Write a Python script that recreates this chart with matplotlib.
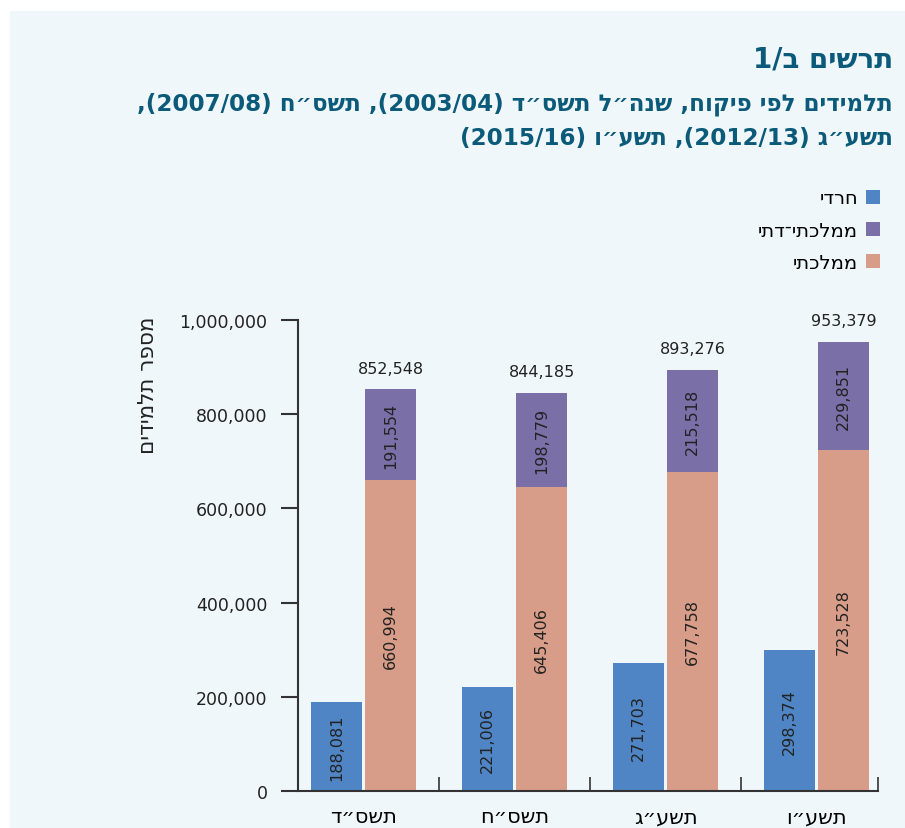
import re
import matplotlib
matplotlib.use("Agg")
import matplotlib.pyplot as plt
from matplotlib.patches import Rectangle
import numpy as np

plt.rcParams['font.family'] = ['DejaVu Sans', 'Liberation Sans']

# data
years = ['תשס״ד', 'תשס״ח', 'תשע״ג', 'תשע״ו']
haredi = [188081, 221006, 271703, 298374]
mamlachti = [660994, 645406, 677758, 723528]
mamlachti_dati = [191554, 198779, 215518, 229851]
totals = [852548, 844185, 893276, 953379]
series_names = ['חרדי', 'ממלכתי־דתי', 'ממלכתי']

c_blue = '#4f85c5'
c_purple = '#7a6fa7'
c_orange = '#d89d88'
c_title = '#0b5a7a'
bg = '#f0f7fa'


def rtl(s):
    # crude visual reordering for right-to-left text (numbers kept as is)
    toks = re.findall(r'\d[\d,/.]*\d|\d|[^\d]+', s)
    out = []
    for t in reversed(toks):
        if t[0].isdigit():
            out.append(t)
        else:
            t = t[::-1].translate(str.maketrans('()', ')('))
            out.append(t)
    return ''.join(out)


W, H = 905, 829
fig = plt.figure(figsize=(W / 100, H / 100), dpi=100)
fig.patch.set_facecolor('white')
fig.patches.append(Rectangle((10 / W, 0), 1, 1 - 12 / H, transform=fig.transFigure,
                             facecolor=bg, edgecolor='none', zorder=-10))

ax = fig.add_axes([298 / W, 1 - 792 / H, 580 / W, 471 / H])
ax.set_facecolor('none')

x = np.arange(len(years))
off = 0.179
bw = 0.338
ax.bar(x - off, haredi, bw, color=c_blue, label=rtl(series_names[0]))
ax.bar(x + off, mamlachti, bw, color=c_orange, label=rtl(series_names[2]))
ax.bar(x + off, mamlachti_dati, bw, bottom=mamlachti, color=c_purple,
       label=rtl(series_names[1]))

lab_kw = dict(rotation=90, ha='center', va='center', fontsize=11.5, color='#222222')
for i in range(len(years)):
    ax.text(x[i] - off, haredi[i] / 2, f'{haredi[i]:,}', **lab_kw)
    ax.text(x[i] + off, mamlachti[i] / 2, f'{mamlachti[i]:,}', **lab_kw)
    ax.text(x[i] + off, mamlachti[i] + mamlachti_dati[i] / 2, f'{mamlachti_dati[i]:,}', **lab_kw)
    ax.annotate(f'{totals[i]:,}', (x[i] + off, totals[i]), xytext=(0, 10),
                textcoords='offset points', ha='center', va='bottom',
                fontsize=11.5, color='#222222', annotation_clip=False)

ax.set_xlim(-0.434, 3.407)
ax.set_ylim(0, 1000000)
ax.set_yticks(np.arange(0, 1000001, 200000))
ax.set_yticklabels([f'{v:,}' for v in range(0, 1000001, 200000)])
ax.set_xticks(x)
ax.set_xticklabels([rtl(y) for y in years], fontsize=15)
ax.set_xticks([0.5, 1.5, 2.5, 3.407], minor=True)
ax.tick_params(axis='x', which='major', length=0, pad=11)
ax.tick_params(axis='x', which='minor', direction='in', length=10, width=1.2, color='#333333')
ax.tick_params(axis='y', direction='out', length=12, width=1.5, pad=10,
               labelsize=12.5, color='#333333', labelcolor='#222222')
for s in ['top', 'right']:
    ax.spines[s].set_visible(False)
for s in ['left', 'bottom']:
    ax.spines[s].set_linewidth(1.5)
    ax.spines[s].set_color('#333333')

fig.text(148 / W, 1 - 385 / H, rtl('מספר תלמידים'), rotation=90, ha='center', va='center',
         fontsize=15.5, color='#222222')

# legend (handles on the right)
h, l = ax.get_legend_handles_labels()
order = [0, 2, 1]
ax.legend([h[k] for k in order], [l[k] for k in order], markerfirst=False, frameon=False,
          loc='upper right', bbox_to_anchor=(897 / W, 1 - 172 / H),
          bbox_transform=fig.transFigure, fontsize=14, handlelength=0.7,
          handleheight=0.7, handletextpad=0.4, labelspacing=0.68)

# titles
fig.text(893 / W, 1 - 68 / H, rtl('תרשים ב/1'), ha='right', va='baseline',
         fontsize=20, fontweight='bold', color=c_title)
fig.text(893 / W, 1 - 110 / H,
         rtl('תלמידים לפי פיקוח, שנה״ל תשס״ד (2003/04), תשס״ח (2007/08),'),
         ha='right', va='baseline', fontsize=16.6, fontweight='bold', color=c_title)
fig.text(893 / W, 1 - 145 / H, rtl('תשע״ג (2012/13), תשע״ו (2015/16)'),
         ha='right', va='baseline', fontsize=16.6, fontweight='bold', color=c_title)

fig.savefig('out.png', dpi=100, facecolor=fig.get_facecolor())
